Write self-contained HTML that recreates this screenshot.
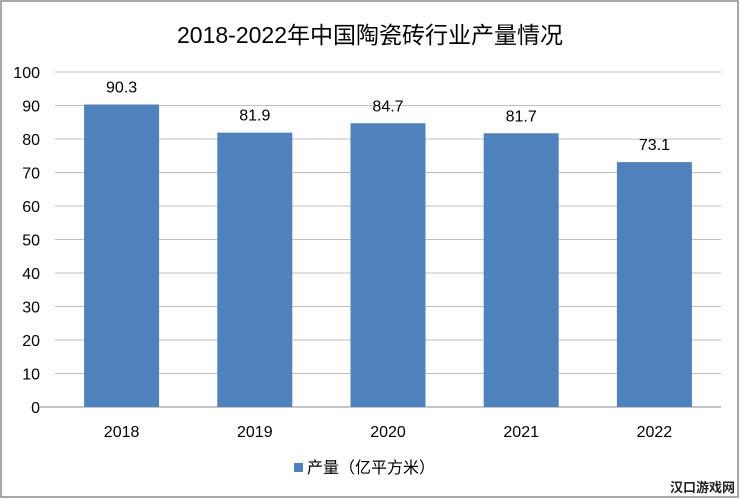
<!DOCTYPE html>
<html><head><meta charset="utf-8"><style>
body{margin:0;background:#fff;}
svg{display:block;font-family:"Liberation Sans","Noto Sans CJK SC",sans-serif;}
</style></head><body>
<svg id="chart" width="740" height="500">
<rect x="1" y="1" width="737" height="496" fill="#fff" stroke="#8c8c8c" stroke-width="1.5"/>
<text x="370" y="43" text-anchor="middle" font-size="23" fill="#000">2018-2022年中国陶瓷砖行业产量情况</text>
<g id="grid"></g><g id="bars"></g><g id="labels"></g>
<g>
<rect x="294" y="463" width="9" height="9" fill="#4f81bd"/>
<text x="307" y="473" font-size="16" fill="#000">产量（亿平方米）</text>
</g>
<g>
<text x="735" y="492" text-anchor="end" font-size="13" font-weight="bold" fill="#222">汉口游戏网</text>
</g>
</svg>
<script>
const categories=["2018","2019","2020","2021","2022"];
const values=[90.3,81.9,84.7,81.7,73.1];
const valueLabels=["90.3","81.9","84.7","81.7","73.1"];
const yTicks=[0,10,20,30,40,50,60,70,80,90,100];
const NS="http://www.w3.org/2000/svg";
const x0=55,x1=721,yb=407,yt=72,ymax=100;
const bw=(x1-x0)/categories.length;
const Y=v=>yb-(v/ymax)*(yb-yt);
const X=i=>x0+bw*(i+0.5);
function mk(t,a,p){const e=document.createElementNS(NS,t);for(const k in a)e.setAttribute(k,a[k]);p.appendChild(e);return e;}
const g=document.getElementById('grid'),b=document.getElementById('bars'),l=document.getElementById('labels');
yTicks.forEach(v=>{
 const ln=mk('line',{x1:v===0?40:x0,x2:x1,y1:Y(v),y2:Y(v),stroke:v===0?'#888':'#bfbfbf','stroke-width':1},g);
 
 
 const t=mk('text',{x:40,y:Y(v)+6,'text-anchor':'end','font-size':16,fill:'#000'},g);
 t.textContent=v;
 
 
});
categories.forEach((c,i)=>{
 const r=mk('rect',{x:X(i)-37.5,y:Y(values[i]),width:75,height:yb-Y(values[i]),fill:'#4f81bd'},b);
 
 
 const t=mk('text',{x:X(i),y:Y(values[i])-12,'text-anchor':'middle','font-size':16,fill:'#000'},l);
 t.textContent=valueLabels[i];
 
 
 const xt=mk('text',{x:X(i),y:437,'text-anchor':'middle','font-size':16,fill:'#000'},l);
 xt.textContent=c;
 
 
});
</script>
</body></html>
